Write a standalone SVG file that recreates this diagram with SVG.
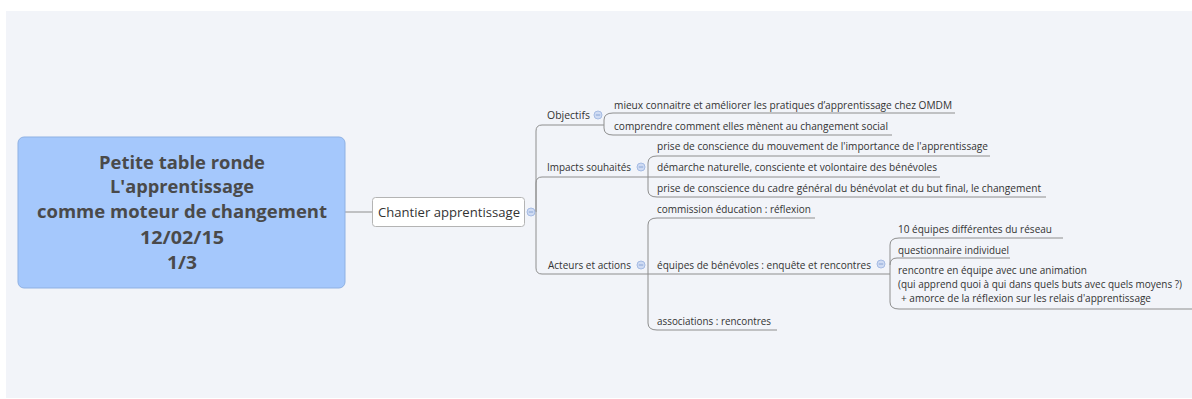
<svg xmlns="http://www.w3.org/2000/svg" width="1192" height="399" viewBox="0 0 1192 399">
<style>
.t{font-family:"Open Sans","Noto Sans","Liberation Sans",sans-serif;font-size:10.8px;fill:#333}
.c{font-family:"Open Sans","Noto Sans","Liberation Sans",sans-serif;font-size:17.5px;font-weight:bold;fill:#4a4a4a;text-anchor:middle}
.m{font-family:"Open Sans","Noto Sans","Liberation Sans",sans-serif;font-size:13.5px;fill:#333}
.l{fill:none;stroke:#8e8e8e;stroke-width:1}
.cb{fill:#cfdbf3;stroke:#a6bce4;stroke-width:1}
.cm{stroke:#8aa6d6;stroke-width:1}
</style>
<defs>
<g id="collapse"><circle class="cb" cx="0" cy="0" r="4"/><line class="cm" x1="-2.2" y1="0" x2="2.2" y2="0"/></g>
</defs>
<rect x="0" y="0" width="1192" height="399" fill="#ffffff"/>
<rect x="6" y="11" width="1186" height="387" fill="#f2f4f9"/>
<g id="connectors">
<path class="l" d="M345,212 L373,212"/>
<path class="l" d="M536,212 L536,131 Q536,125 542,125 L604,125"/>
<path class="l" d="M536,212 L536,183 Q536,177 542,177 L940,177"/>
<path class="l" d="M536,212 L536,268 Q536,274 542,274 L890,274"/>
<path class="l" d="M613,113 Q604,113 604,120 L604,128 Q604,135 613,135"/>
<path class="l" d="M613,113 L955,113"/>
<path class="l" d="M613,135 L892,135"/>
<path class="l" d="M657,156 Q648,156 648,163 L648,190 Q648,197 657,197"/>
<path class="l" d="M657,156 L990,156"/>
<path class="l" d="M657,197 L1046,197"/>
<path class="l" d="M657,218 Q648,218 648,225 L648,323 Q648,330 657,330"/>
<path class="l" d="M657,218 L815,218"/>
<path class="l" d="M657,330 L777,330"/>
<path class="l" d="M899,238 Q890,238 890,245 L890,302 Q890,309 899,309"/>
<path class="l" d="M890,265 Q890,258 897,258 L1010,258"/>
<path class="l" d="M899,238 L1063,238"/>
<path class="l" d="M899,309 L1192,309"/>
</g>
<g id="central">
<rect x="18" y="137" width="327" height="151" rx="6" fill="#a5c8fc" stroke="#8fb1e3" stroke-width="1"/>
<text class="c" x="182" y="169" textLength="166" lengthAdjust="spacingAndGlyphs">Petite table ronde</text>
<text class="c" x="182" y="193" textLength="144" lengthAdjust="spacingAndGlyphs">L'apprentissage</text>
<text class="c" x="182" y="218" textLength="290" lengthAdjust="spacingAndGlyphs">comme moteur de changement</text>
<text class="c" x="182" y="244" textLength="84" lengthAdjust="spacingAndGlyphs">12/02/15</text>
<text class="c" x="182" y="269" textLength="30" lengthAdjust="spacingAndGlyphs">1/3</text>
</g>
<g id="chantier">
<rect x="372.5" y="197.5" width="152" height="29" rx="3" fill="#ffffff" stroke="#b4b4b4" stroke-width="1"/>
<text class="m" x="378" y="217" textLength="142" lengthAdjust="spacingAndGlyphs">Chantier apprentissage</text>
<use href="#collapse" x="531" y="212"/>
</g>
<g id="objectifs">
<text class="t" x="547" y="119" textLength="43" lengthAdjust="spacingAndGlyphs">Objectifs</text>
<use href="#collapse" x="598" y="115"/>
</g>
<g id="obj1"><text class="t" x="614" y="109" textLength="338" lengthAdjust="spacingAndGlyphs">mieux connaitre et améliorer les pratiques d’apprentissage chez OMDM</text></g>
<g id="obj2"><text class="t" x="614" y="130" textLength="274" lengthAdjust="spacingAndGlyphs">comprendre comment elles mènent au changement social</text></g>
<g id="impacts">
<text class="t" x="547" y="171" textLength="84" lengthAdjust="spacingAndGlyphs">Impacts souhaités</text>
<use href="#collapse" x="641" y="167"/>
</g>
<g id="imp1"><text class="t" x="657" y="150" textLength="331" lengthAdjust="spacingAndGlyphs">prise de conscience du mouvement de l'importance de l'apprentissage</text></g>
<g id="imp2"><text class="t" x="657" y="171" textLength="280" lengthAdjust="spacingAndGlyphs">démarche naturelle, consciente et volontaire des bénévoles</text></g>
<g id="imp3"><text class="t" x="657" y="192" textLength="384" lengthAdjust="spacingAndGlyphs">prise de conscience du cadre général du bénévolat et du but final, le changement</text></g>
<g id="acteurs">
<text class="t" x="548" y="269" textLength="83" lengthAdjust="spacingAndGlyphs">Acteurs et actions</text>
<use href="#collapse" x="641" y="265"/>
</g>
<g id="act1"><text class="t" x="657" y="213" textLength="154" lengthAdjust="spacingAndGlyphs">commission éducation : réflexion</text></g>
<g id="act2">
<text class="t" x="657" y="269" textLength="214" lengthAdjust="spacingAndGlyphs">équipes de bénévoles : enquête et rencontres</text>
<use href="#collapse" x="881" y="264"/>
</g>
<g id="act3"><text class="t" x="657" y="325" textLength="114" lengthAdjust="spacingAndGlyphs">associations : rencontres</text></g>
<g id="eq1"><text class="t" x="898" y="233" textLength="154" lengthAdjust="spacingAndGlyphs">10 équipes différentes du réseau</text></g>
<g id="eq2"><text class="t" x="898" y="253.5" textLength="111" lengthAdjust="spacingAndGlyphs">questionnaire individuel</text></g>
<g id="eq3">
<text class="t" x="898" y="274" textLength="189" lengthAdjust="spacingAndGlyphs">rencontre en équipe avec une animation</text>
<text class="t" x="898" y="288" style="font-size:10.2px" textLength="284" lengthAdjust="spacingAndGlyphs">(qui apprend quoi à qui dans quels buts avec quels moyens ?)</text>
<text class="t" x="901" y="302" textLength="250" lengthAdjust="spacingAndGlyphs">+ amorce de la réflexion sur les relais d'apprentissage</text>
</g>
</svg>
